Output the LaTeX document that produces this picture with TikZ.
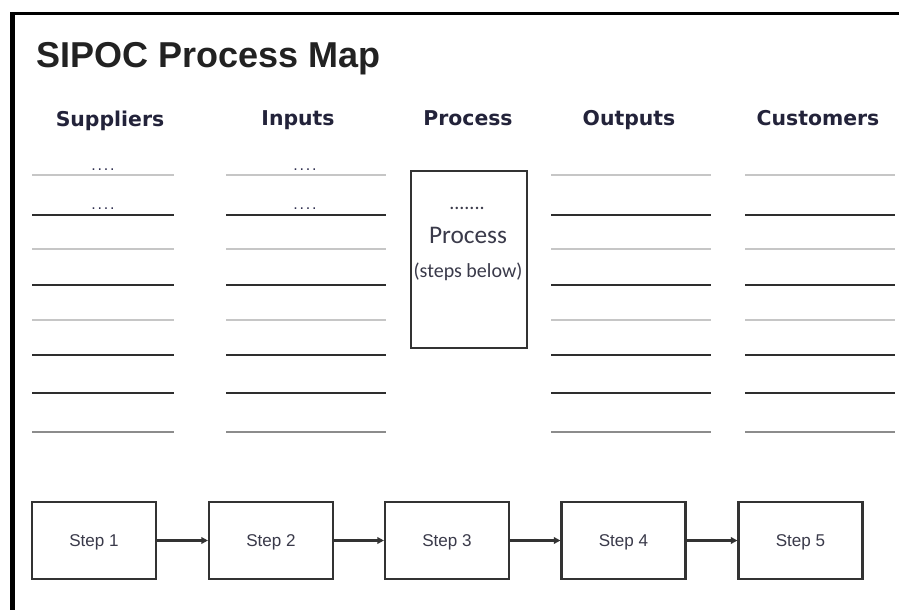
\documentclass[tikz,border=0pt]{standalone}
\usepackage{fontspec}
\setmainfont{Liberation Sans}
\newfontfamily\headfont{DejaVu Sans}
\newfontfamily\boxfont{Carlito}
\usetikzlibrary{arrows.meta}

\definecolor{ink}{HTML}{222222}
\definecolor{headink}{HTML}{23233A}
\definecolor{rulelight}{HTML}{C6C6C6}
\definecolor{ruledark}{HTML}{2E2E2E}
\definecolor{rulemid}{HTML}{8C8C8C}
\definecolor{boxline}{HTML}{333333}
\definecolor{steptext}{HTML}{3A3A4A}
\definecolor{dotink}{HTML}{303050}

\tikzset{
  titletext/.style={anchor=base west, inner sep=0pt, text=ink,
    font=\fontsize{27}{30}\selectfont\bfseries},
  headtext/.style={anchor=base, inner sep=0pt, text=headink,
    font=\headfont\fontsize{15.3}{18}\selectfont\bfseries},
  lightrule/.style={draw=rulelight, line width=1.1pt},
  darkrule/.style={draw=ruledark, line width=1.1pt},
  midrule/.style={draw=rulemid, line width=1.1pt},
  dotrow/.style={anchor=base, inner sep=0pt, text=dotink,
    font=\fontsize{12}{12}\selectfont},
  processbox/.style={draw=boxline, line width=1.4pt, fill=white,
    minimum width=87pt, minimum height=132.75pt, inner sep=0pt},
  boxtext/.style={anchor=base, inner sep=0pt, text=steptext, font=\boxfont},
  stepbox/.style={draw=boxline, line width=1.6pt, fill=white,
    minimum width=93pt, minimum height=57.75pt, inner sep=0pt,
    text height=9pt, text depth=0pt,
    text=steptext, font=\fontsize{12.8}{14}\selectfont},
  flow/.style={draw=boxline, line width=1.7pt,
    -{Triangle[length=5pt, width=5pt]}},
}

\newcommand{\dotfour}{.\hspace{1.4pt}.\hspace{1.4pt}.\hspace{1.4pt}.}

\begin{document}
\begin{tikzpicture}[x=0.75pt, y=-0.75pt]
  \useasboundingbox (0,0) rectangle (899,610);
  \fill[white] (0,0) rectangle (899,610);

  % frame: heavy top and left edges
  \fill[black] (10,12) rectangle (899,15.5);
  \fill[black] (10,12) rectangle (15,610);

  % title
  \node[titletext] (title) at (36,68) {SIPOC Process Map};

  % column headings
  \node[headtext] (hsup)  at (110,127) {Suppliers};
  \node[headtext] (hin)   at (298,125) {Inputs};
  \node[headtext] (hproc) at (468,125) {Process};
  \node[headtext] (hout)  at (629,125) {Outputs};
  \node[headtext] (hcus)  at (818,125) {Customers};

  % ruled lines for the four list columns
  \foreach \xa/\xb in {32/174, 226/386, 551/711, 745/895} {
    \draw[lightrule] (\xa,175) -- (\xb,175);
    \draw[darkrule]  (\xa,215) -- (\xb,215);
    \draw[lightrule] (\xa,249) -- (\xb,249);
    \draw[darkrule]  (\xa,285) -- (\xb,285);
    \draw[lightrule] (\xa,320) -- (\xb,320);
    \draw[darkrule]  (\xa,355) -- (\xb,355);
    \draw[darkrule]  (\xa,393) -- (\xb,393);
    \draw[midrule]   (\xa,432) -- (\xb,432);
  }

  % placeholder dots on the first two lines
  \node[dotrow] (sdot1) at (103,170) {\dotfour};
  \node[dotrow] (sdot2) at (103,209) {\dotfour};
  \node[dotrow] (idot1) at (305,170) {\dotfour};
  \node[dotrow] (idot2) at (305,209) {\dotfour};

  % central process box
  \node[processbox] (proc) at (469,259.5) {};
  \node[boxtext, font=\boxfont\fontsize{15}{16}\selectfont] (pdots) at (467,209) {.......};
  \node[boxtext, font=\boxfont\fontsize{19}{22}\selectfont] (pname) at (468,243) {Process};
  \node[boxtext, font=\boxfont\fontsize{15}{17}\selectfont] (pnote) at (468,277) {(steps below)};

  % process steps
  \node[stepbox] (s1) at (94,540.5)    {Step 1};
  \node[stepbox] (s2) at (271,540.5)   {Step 2};
  \node[stepbox] (s3) at (447,540.5)   {Step 3};
  \node[stepbox] (s4) at (623.5,540.5) {Step 4};
  \node[stepbox] (s5) at (800.5,540.5) {Step 5};

  \draw[flow] (s1) -- (s2);
  \draw[flow] (s2) -- (s3);
  \draw[flow] (s3) -- (s4);
  \draw[flow] (s4) -- (s5);
\end{tikzpicture}
\end{document}
